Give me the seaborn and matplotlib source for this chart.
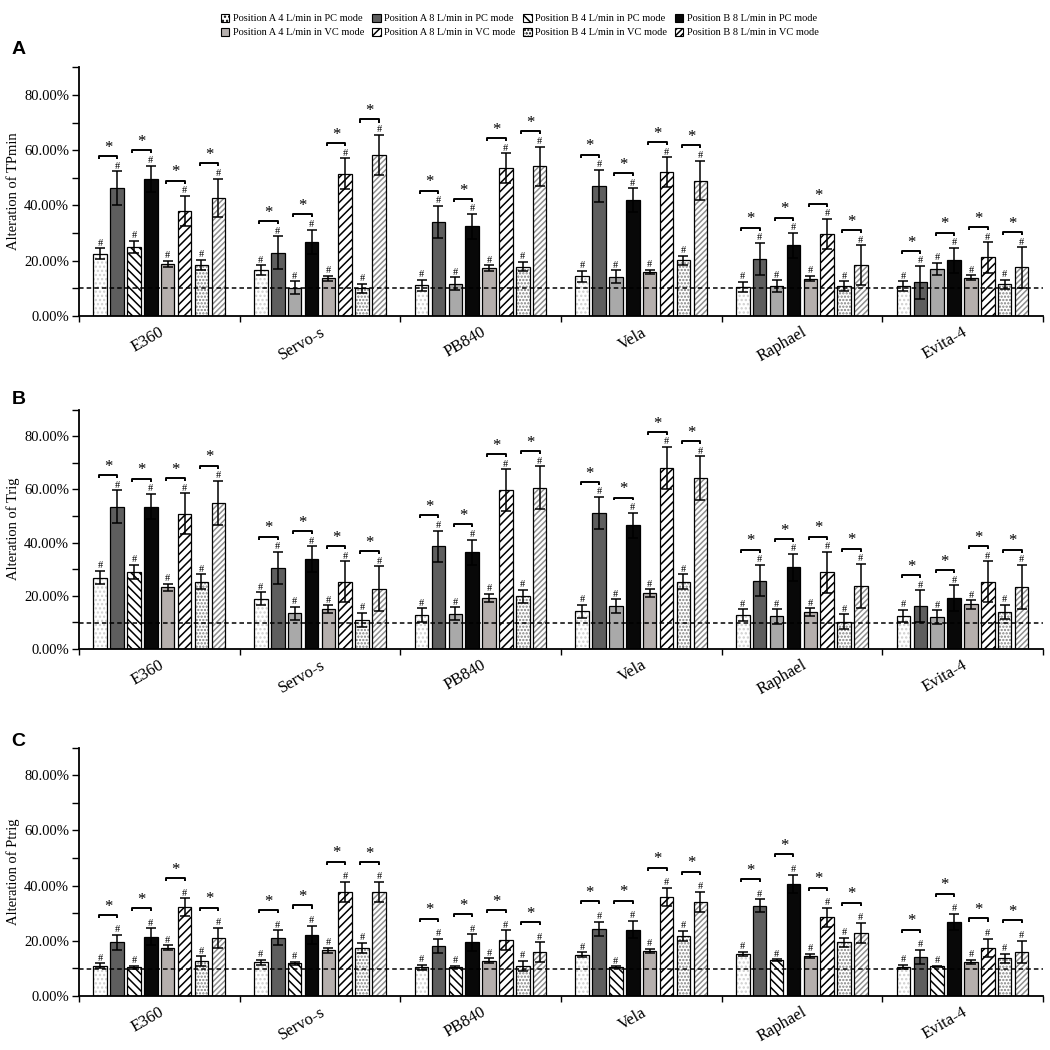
import numpy as np
import pandas as pd
import seaborn as sns
import matplotlib.pyplot as plt
import matplotlib.colors as mcolors
from matplotlib.patches import Patch, Rectangle
from matplotlib.ticker import MultipleLocator, FuncFormatter

# ventilators and the 8 test conditions (bar order inside each group)
devices = ['E360', 'Servo-s', 'PB840', 'Vela', 'Raphael', 'Evita-4']
series = [
    'Position A 4 L/min in PC mode',
    'Position A 8 L/min in PC mode',
    'Position B 4 L/min in PC mode',
    'Position B 8 L/min in PC mode',
    'Position A 4 L/min in VC mode',
    'Position A 8 L/min in VC mode',
    'Position B 4 L/min in VC mode',
    'Position B 8 L/min in VC mode',
]

# values (%), rows = devices, cols = series
tpmin_mean = [
    [22.5, 46.3, 25.0, 49.7, 18.9, 38.0, 18.5, 42.7],
    [16.5, 22.9, 10.2, 26.8, 13.6, 51.4, 10.1, 58.3],
    [11.1, 34.0, 11.7, 32.4, 17.4, 53.5, 17.9, 54.1],
    [14.4, 47.0, 14.2, 41.9, 16.0, 52.0, 20.1, 49.0],
    [10.6, 20.6, 10.8, 25.6, 13.5, 29.7, 10.8, 18.4],
    [10.8, 12.2, 17.1, 20.2, 13.8, 21.2, 11.5, 17.6],
]
tpmin_sd = [
    [2.0, 6.0, 2.3, 4.7, 1.0, 5.5, 1.8, 7.0],
    [1.8, 5.9, 2.4, 4.5, 0.9, 5.6, 1.6, 7.3],
    [2.0, 5.9, 2.4, 4.5, 1.0, 5.4, 1.7, 7.2],
    [2.0, 5.9, 2.3, 4.3, 0.8, 5.5, 1.6, 7.2],
    [1.8, 5.9, 2.2, 4.5, 1.0, 5.4, 1.8, 7.2],
    [1.8, 5.9, 2.2, 4.5, 0.9, 5.5, 1.7, 7.3],
]
trig_mean = [
    [26.8, 53.5, 29.0, 53.5, 23.2, 50.9, 25.2, 54.8],
    [18.9, 30.5, 13.4, 33.7, 14.9, 25.3, 10.8, 22.6],
    [12.8, 38.6, 13.2, 36.4, 19.2, 59.6, 19.7, 60.6],
    [14.2, 51.0, 16.1, 46.4, 20.9, 68.1, 25.3, 64.2],
    [12.7, 25.7, 12.2, 30.7, 13.8, 28.8, 10.3, 23.7],
    [12.4, 16.1, 12.0, 19.2, 16.7, 25.2, 14.0, 23.3],
]
trig_sd = [
    [2.5, 6.1, 2.6, 4.8, 1.3, 7.6, 2.8, 8.4],
    [2.4, 6.0, 2.4, 4.9, 1.5, 7.7, 2.7, 8.4],
    [2.5, 5.9, 2.5, 4.7, 1.5, 7.9, 2.6, 8.1],
    [2.4, 6.1, 2.6, 4.8, 1.5, 7.8, 2.8, 8.3],
    [2.2, 5.9, 2.7, 5.0, 1.5, 7.7, 2.7, 8.3],
    [2.4, 6.0, 2.5, 4.8, 1.6, 7.7, 2.6, 8.3],
]
ptrig_mean = [
    [10.9, 19.4, 10.4, 21.5, 17.5, 32.2, 12.7, 21.0],
    [12.2, 21.1, 11.9, 22.2, 16.5, 37.8, 17.5, 37.6],
    [10.5, 18.1, 10.5, 19.4, 12.8, 20.2, 10.9, 15.8],
    [15.0, 24.4, 10.4, 24.1, 16.4, 35.9, 21.8, 34.2],
    [15.2, 32.7, 13.0, 40.7, 14.5, 28.5, 19.5, 22.9],
    [10.5, 14.2, 10.8, 26.8, 12.4, 17.5, 13.6, 16.1],
]
ptrig_sd = [
    [0.9, 2.7, 0.6, 3.0, 0.9, 3.2, 1.7, 3.7],
    [1.0, 2.7, 0.5, 3.3, 1.0, 3.6, 1.8, 3.7],
    [0.9, 2.6, 0.4, 3.0, 0.8, 3.6, 1.9, 3.6],
    [0.9, 2.6, 0.3, 3.2, 0.8, 3.3, 1.8, 3.6],
    [0.8, 2.3, 0.3, 3.3, 0.9, 3.5, 1.7, 3.6],
    [0.8, 2.6, 0.2, 3.0, 0.7, 3.3, 1.8, 4.0],
]
ylabels = ['Alteration of TPmin', 'Alteration of Trig', 'Alteration of Ptrig']
panel_letters = ['A', 'B', 'C']
threshold = [10.0, 9.7, 9.7]

# fill style per series: (face, hatch, hatch colour)
styles = [
    ('white', '....', '#cfcfcf'),
    ('#5e5e5e', None, None),
    ('white', '\\\\\\\\', 'black'),
    ('#080808', None, None),
    ('#b5afad', None, None),
    ('white', '////', 'black'),
    ('white', '.....', '#808080'),
    ('white', '//////', '#909090'),
]
# in panels A and B the third bar was drawn plain grey except for E360
plain_third = [devices[1:], devices[1:], []]

plt.rcParams['font.family'] = ['Liberation Serif', 'DejaVu Serif']
plt.rcParams['hatch.linewidth'] = 1.1


def hatch_colour(artist, colour):
    if hasattr(artist, 'set_hatchcolor'):
        artist.set_hatchcolor(colour)
    else:
        artist._hatch_color = mcolors.to_rgba(colour)


fig = plt.figure(figsize=(10.5, 10.5), dpi=100)
boxes = [(0.0752, 0.699, 0.918, 0.237),
         (0.0752, 0.382, 0.918, 0.228),
         (0.0752, 0.0514, 0.918, 0.2366)]
letter_y = [1 - 49 / 1050, 1 - 400 / 1050, 1 - 742 / 1050]
bracket_gap = [5.5, 5.7, 7.3]

panels = [(tpmin_mean, tpmin_sd), (trig_mean, trig_sd), (ptrig_mean, ptrig_sd)]

for p, (means, sds) in enumerate(panels):
    ax = fig.add_axes(boxes[p])
    rows = []
    for i, d in enumerate(devices):
        for j, s in enumerate(series):
            rows.append({'device': d, 'series': s, 'value': means[i][j], 'sd': sds[i][j]})
    df = pd.DataFrame(rows)

    sns.barplot(data=df, x='device', y='value', hue='series', order=devices,
                hue_order=series, palette={s: st[0] for s, st in zip(series, styles)},
                saturation=1, errorbar=None, width=0.84, gap=0.2,
                edgecolor='black', linewidth=0.9, legend=False, ax=ax)

    bar_conts = list(ax.containers[:len(series)])
    tops = np.zeros((len(devices), len(series)))
    centers = np.zeros((len(devices), len(series)))
    for j, cont in enumerate(bar_conts):
        face, hatch, hcol = styles[j]
        for i, bar in enumerate(cont):
            x0, w, h = bar.get_x(), bar.get_width(), bar.get_height()
            centers[i, j] = x0 + w / 2
            sd = sds[i][j]
            tops[i, j] = h + sd
            if j == 2 and devices[i] in plain_third[p]:
                bar.set_facecolor('#a9a9a9')
            elif hatch:
                bar.set_facecolor('white')
                bar.set_hatch(hatch)
                bar.set_edgecolor(hcol)
                hatch_colour(bar, hcol)
                bar.set_linewidth(0)
                ax.add_patch(Rectangle((x0, 0), w, h, fill=False, ec='black', lw=0.9,
                                       zorder=bar.get_zorder()))
            ax.errorbar(centers[i, j], h, yerr=sd, fmt='none', ecolor='black',
                        elinewidth=1.1, capsize=3.8, capthick=1.1, zorder=5)
            ax.text(centers[i, j], h + sd + 0.2, '#', ha='center', va='bottom', fontsize=7.5)

    # significance brackets between 4 and 8 L/min pairs
    for i in range(len(devices)):
        for k in range(0, 8, 2):
            xa, xb = centers[i, k] - 0.01, centers[i, k + 1]
            yb = max(tops[i, k], tops[i, k + 1]) + bracket_gap[p]
            ax.plot([xa, xa, xb, xb], [yb - 1.1, yb, yb, yb - 1.1], color='black', lw=1.4,
                    solid_capstyle='butt', zorder=6)
            ax.text((xa + xb) / 2, yb + 0.1, '*', ha='center', va='bottom', fontsize=12)

    ax.axhline(threshold[p], color='black', lw=1.1, ls=(0, (3, 2)), zorder=7)

    ax.set_xlim(-0.5, len(devices) - 0.5)
    ax.set_ylim(0, 90)
    ax.yaxis.set_major_locator(MultipleLocator(20))
    ax.yaxis.set_minor_locator(MultipleLocator(10))
    ax.yaxis.set_major_formatter(FuncFormatter(lambda v, pos: f'{v:.2f}%'))
    ax.tick_params(axis='y', which='both', length=5, width=1, direction='out', labelsize=10.5, pad=2)
    ax.set_xticks(range(len(devices)))
    ax.set_xticklabels(devices, rotation=30, ha='right', rotation_mode='anchor', fontsize=12)
    ax.xaxis.set_minor_locator(MultipleLocator(1, offset=0.5))
    ax.tick_params(axis='x', which='major', length=0, pad=6)
    ax.tick_params(axis='x', which='minor', length=4, width=1, direction='out')
    ax.set_xlabel('')
    ax.set_ylabel(ylabels[p], fontsize=10.5, labelpad=3)
    for side in ['top', 'right']:
        ax.spines[side].set_visible(False)
    for side in ['left', 'bottom']:
        ax.spines[side].set_linewidth(1.3)

    fig.text(0.011, letter_y[p], panel_letters[p], fontsize=14, fontweight='bold',
             family='Liberation Sans', va='center', ha='left')

handles = []
for s, (face, hatch, hcol) in zip(series, styles):
    handles.append(Patch(facecolor=face, edgecolor='black', hatch=hatch, lw=0.8, label=s))
order = [0, 4, 1, 5, 2, 6, 3, 7]
fig.legend([handles[k] for k in order], [series[k] for k in order], ncol=4,
           loc='upper center', bbox_to_anchor=(0.495, 0.996), frameon=False,
           fontsize=7.5, handlelength=0.8, handleheight=0.8, handletextpad=0.3,
           columnspacing=0.8, labelspacing=0.45)

fig.savefig('out.png', dpi=100)
